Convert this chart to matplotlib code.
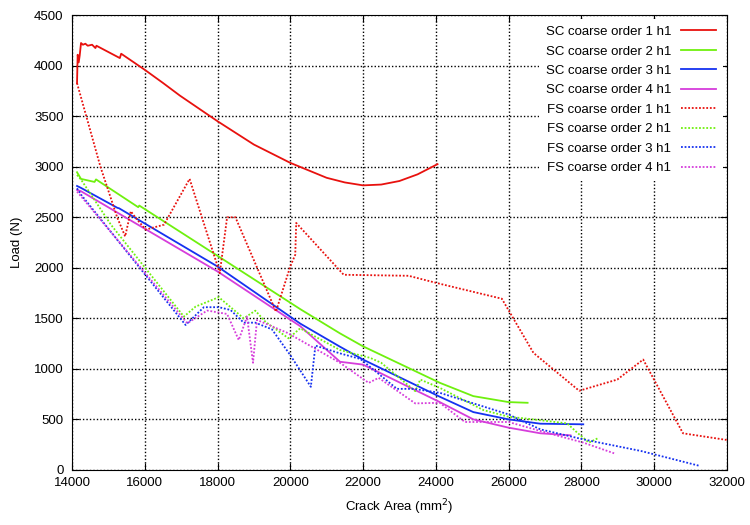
import numpy as np
import matplotlib.pyplot as plt

plt.rcParams['font.family'] = ['Liberation Sans', 'DejaVu Sans']

# SC series (solid)
sc1_x = [14138, 14156, 14184, 14211, 14248, 14300, 14368, 14432, 14552, 14644, 14672,
         15315, 15352, 16000, 16500, 16968, 18000, 19000, 20000, 21000, 21500, 22000,
         22500, 23000, 23500, 24049]
sc1_y = [3828, 4109, 4033, 4099, 4225, 4208, 4218, 4198, 4208, 4175, 4198,
         4076, 4119, 3960, 3830, 3704, 3451, 3220, 3039, 2891, 2845, 2816,
         2824, 2859, 2925, 3026]

sc2_x = [14138, 14247, 14620, 14660, 15820, 15850, 18000, 20279, 21368, 22000, 24110,
         25032, 26000, 26525]
sc2_y = [2946, 2880, 2850, 2875, 2600, 2616, 2119, 1590, 1351, 1223, 862,
         730, 671, 664]

sc3_x = [14138, 14247, 15251, 15290, 18000, 20279, 21368, 22000, 24110, 25032, 26000,
         26876, 28055]
sc3_y = [2810, 2791, 2593, 2590, 2013, 1447, 1219, 1092, 724, 572, 500,
         457, 451]

sc4_x = [14138, 14247, 18000, 20279, 21368, 22000, 24110, 25032, 26000, 26876, 27705]
sc4_y = [2771, 2758, 1964, 1421, 1070, 1042, 671, 500, 418, 362, 342]

# FS series (dotted)
fs1_x = [14138, 14782, 15241, 15461, 15617, 15753, 16027, 16530, 17233, 18063, 18264,
         18493, 19607, 20000, 20137, 20164, 21469, 23254, 24032, 25817, 26686, 27943,
         28991, 29703, 30797, 32000]
fs1_y = [3828, 3000, 2500, 2311, 2560, 2493, 2378, 2427, 2880, 1947, 2500,
         2500, 1567, 2013, 2129, 2444, 1931, 1921, 1849, 1694, 1158, 783,
         894, 1092, 362, 296]

fs2_x = [14138, 14247, 15069, 15982, 17077, 17397, 18036, 18721, 19040, 19314, 19953,
         20273, 21368, 22201, 22500, 23437, 23574, 24110, 25309, 26000, 26507, 27613,
         27890, 28212, 28489]
fs2_y = [2919, 2874, 2427, 2013, 1517, 1616, 1709, 1500, 1576, 1467, 1302,
         1401, 1186, 1108, 1060, 779, 894, 812, 592, 526, 507, 460,
         368, 270, 319]

fs3_x = [14138, 14247, 17123, 17625, 18036, 18356, 18721, 19040, 19497, 20000, 20566,
         20691, 21368, 21927, 22934, 23391, 24110, 26000, 26323, 26876, 28055, 29641,
         31226]
fs3_y = [2787, 2725, 1434, 1610, 1610, 1583, 1457, 1457, 1391, 1136, 822,
         1230, 1153, 1098, 802, 802, 763, 549, 493, 401, 302, 187,
         42]

fs4_x = [14138, 14247, 17169, 17717, 18264, 18584, 18812, 18976, 19086, 19908, 20279,
         21368, 22156, 22430, 23437, 24110, 24802, 26000, 26876, 28055, 28903]
fs4_y = [2754, 2708, 1451, 1577, 1543, 1285, 1517, 1060, 1484, 1358, 1283,
         1060, 861, 911, 658, 664, 474, 474, 385, 270, 164]

labels = ['SC coarse order 1 h1', 'SC coarse order 2 h1', 'SC coarse order 3 h1',
          'SC coarse order 4 h1', 'FS coarse order 1 h1', 'FS coarse order 2 h1',
          'FS coarse order 3 h1', 'FS coarse order 4 h1']
colors = ['#e8110e', '#6ff00e', '#1531f0', '#d63ddb']

fig = plt.figure(figsize=(7.5, 5.25), dpi=100)
ax = fig.add_axes([0.096, 0.105, 0.873, 0.866])

sc = [(sc1_x, sc1_y), (sc2_x, sc2_y), (sc3_x, sc3_y), (sc4_x, sc4_y)]
fs = [(fs1_x, fs1_y), (fs2_x, fs2_y), (fs3_x, fs3_y), (fs4_x, fs4_y)]
for i, (x, y) in enumerate(sc):
    ax.plot(x, y, '-', color=colors[i], lw=1.3, label=labels[i], zorder=3)
for i, (x, y) in enumerate(fs):
    ax.plot(x, y, color=colors[i], lw=1.3, ls=(0, (1, 1)), label=labels[i + 4], zorder=3)

ax.set_xlim(14000, 32000)
ax.set_ylim(0, 4500)
ax.set_xticks(np.arange(14000, 32001, 2000))
ax.set_yticks(np.arange(0, 4501, 500))
ax.tick_params(direction='in', top=True, right=True, labelsize=9.5, length=5)
ax.tick_params(axis='y', pad=6)
ax.tick_params(axis='x', pad=5)
ax.grid(True, color='black', ls=(0, (1, 1.5)), lw=1.0)
ax.set_axisbelow(True)
ax.set_xlabel('Crack Area (mm$^2$)', fontsize=9.5, labelpad=6)
ax.set_ylabel('Load (N)', fontsize=9.5, labelpad=8)

leg = ax.legend(loc='upper right', markerfirst=False, fontsize=9.5, frameon=True,
                fancybox=False, edgecolor='none', framealpha=1, handlelength=2.7,
                handletextpad=0.7, labelspacing=0.55, borderpad=0.5, borderaxespad=0.3)
leg.set_zorder(5)

plt.savefig('out.png')
